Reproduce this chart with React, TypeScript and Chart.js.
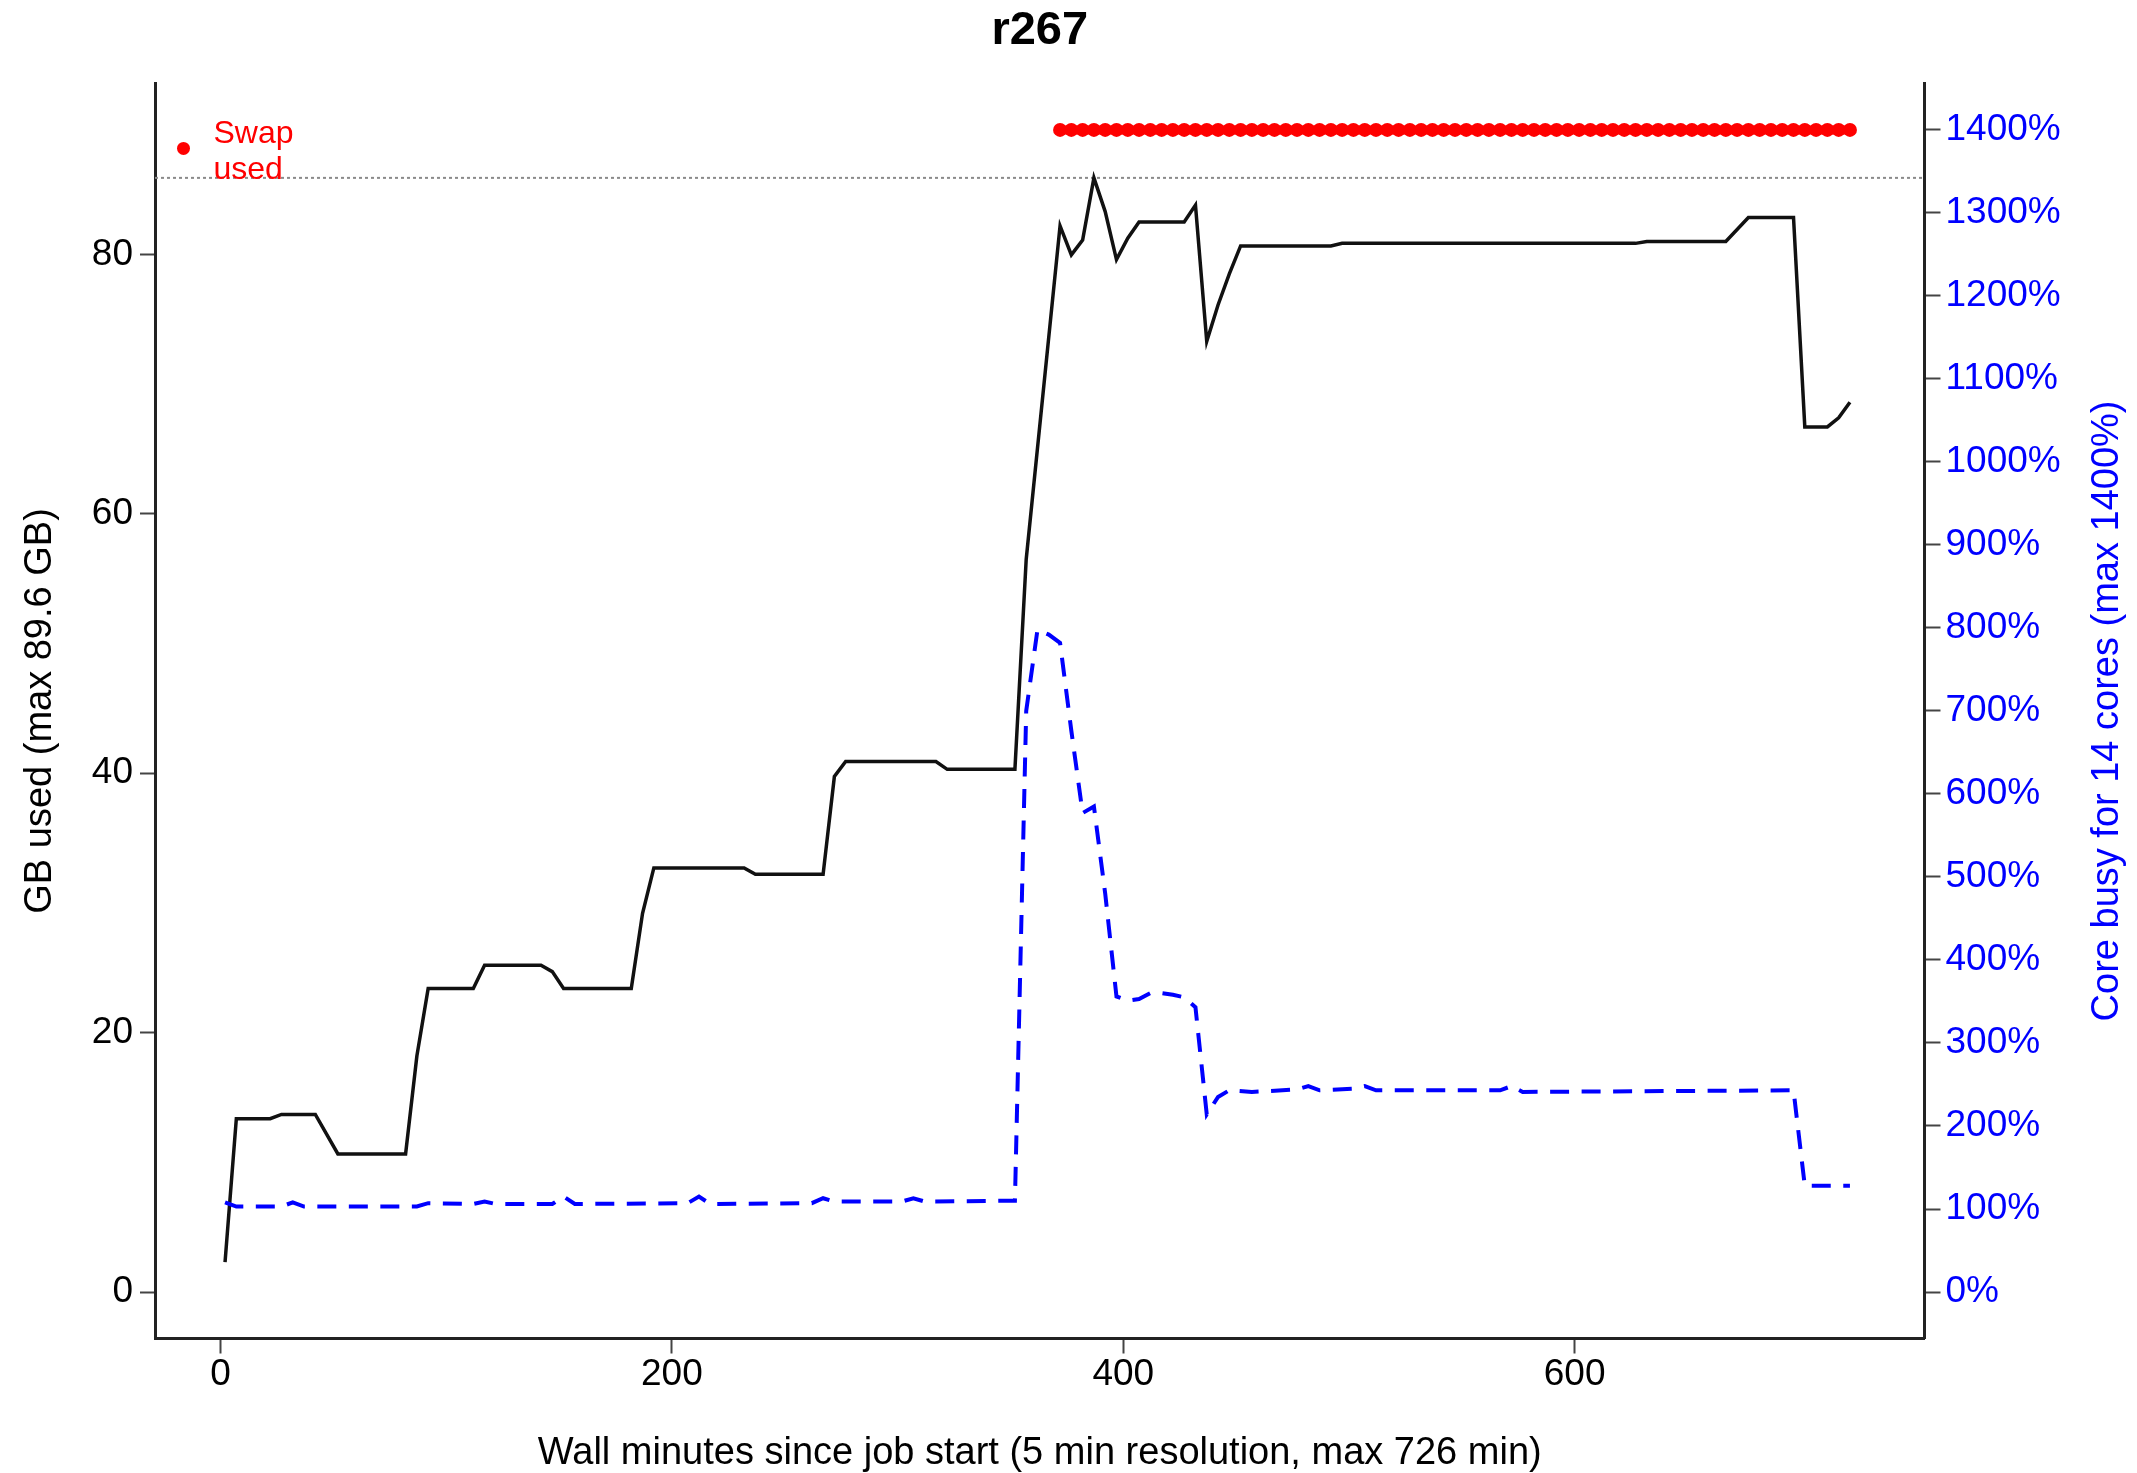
import React, { useEffect, useRef } from "react";
import { Chart, registerables } from "chart.js";

Chart.register(...registerables);

// ---- text ----
const TITLE = "r267";
const X_TITLE = "Wall minutes since job start (5 min resolution, max 726 min)";
const Y_TITLE = "GB used (max 89.6 GB)";
const Y2_TITLE = "Core busy for 14 cores (max 1400%)";
const LEGEND_LINES = ["Swap", "used"];

// ---- ticks ----
const X_TICKS = [0, 200, 400, 600];
const Y_TICKS = [0, 20, 40, 60, 80];
const Y2_TICKS = [0, 100, 200, 300, 400, 500, 600, 700, 800, 900, 1000, 1100, 1200, 1300, 1400];

// ---- ranges (R style, padded by 4%) ----
const X_LIMITS = [0, 726];
const MEM_LIMITS = [0, 89.6];
const CPU_LIMITS = [0, 1400];

// ---- memory series (GB) ----
const memMinutes = [
  2, 7, 22, 27, 42, 52, 82, 87, 92, 112, 117, 142, 147, 152, 182, 187, 192, 232, 237, 267,
  272, 277, 317, 322, 352, 357, 372, 377, 382, 387, 392, 397, 402, 407, 427, 432, 437, 442,
  447, 452, 492, 497, 627, 632, 667, 677, 697, 702, 712, 717, 722,
];
const memGB = [
  2.3, 13.36, 13.36, 13.69, 13.69, 10.65, 10.65, 18.2, 23.4, 23.4, 25.2, 25.2, 24.7, 23.4, 23.4, 29.2, 32.7, 32.7, 32.2, 32.2,
  39.75, 40.9, 40.9, 40.3, 40.3, 56.5, 82.2, 79.96, 81.1, 85.9, 83.3, 79.6, 81.25, 82.5, 82.5, 83.8, 73.3, 76.1,
  78.5, 80.65, 80.65, 80.85, 80.85, 81.0, 81.0, 82.85, 82.85, 66.7, 66.7, 67.4, 68.6,
];

// ---- CPU series (% busy) ----
const cpuMinutes = [
  2, 7, 27, 32, 37, 87, 92, 112, 117, 122, 147, 152, 157, 207, 212, 217, 262, 267, 272, 302,
  307, 312, 352, 357, 362, 367, 372, 377, 382, 387, 392, 397, 402, 407, 412, 417, 422, 427,
  432, 437, 442, 447, 457, 477, 482, 487, 502, 507, 512, 567, 572, 577, 697, 702, 722,
];
const cpuPct = [
  108, 103, 103, 108, 103, 103, 107, 106, 109, 106, 106, 115, 106, 107, 115, 106, 107, 113, 109, 109,
  113, 109, 110, 700, 798, 792, 782, 676, 577, 585, 480, 356, 351, 353, 360, 360, 358, 355,
  343, 214, 235, 243, 241, 244, 248, 243, 245, 248, 243, 243, 248, 241, 243, 128, 128,
];

// ---- swap used samples (minutes) ----
const swapMinutes = [
  372, 377, 382, 387, 392, 397, 402, 407, 412, 417, 422, 427, 432, 437, 442, 447, 452, 457,
  462, 467, 472, 477, 482, 487, 492, 497, 502, 507, 512, 517, 522, 527, 532, 537, 542, 547,
  552, 557, 562, 567, 572, 577, 582, 587, 592, 597, 602, 607, 612, 617, 622, 627, 632, 637,
  642, 647, 652, 657, 662, 667, 672, 677, 682, 687, 692, 697, 702, 707, 712, 717, 722,
];
const SWAP_LEVEL_GB = 89.6;

const FONT = '"Liberation Sans", Arial, Helvetica, sans-serif';
const BLUE = "#0000ff";
const RED = "#ff0000";

function padded(lim: number[]) {
  const d = (lim[1] - lim[0]) * 0.04;
  return [lim[0] - d, lim[1] + d];
}

const overlayPlugin = {
  id: "overlay",
  afterDraw(chart: any) {
    const { ctx, chartArea } = chart;
    ctx.save();
    // right axis title (reads bottom-to-top)
    ctx.translate(chartArea.right + 183, (chartArea.top + chartArea.bottom) / 2);
    ctx.rotate(-Math.PI / 2);
    ctx.font = `38px ${FONT}`;
    ctx.fillStyle = BLUE;
    ctx.textAlign = "center";
    ctx.textBaseline = "middle";
    ctx.fillText(Y2_TITLE, 0, 0);
    ctx.restore();

    // legend
    ctx.save();
    const lx = chartArea.left + 28.5;
    const ly = chartArea.top + 65;
    ctx.fillStyle = RED;
    ctx.beginPath();
    ctx.arc(lx, ly, 6.5, 0, Math.PI * 2);
    ctx.fill();
    ctx.font = `32px ${FONT}`;
    ctx.textAlign = "left";
    ctx.textBaseline = "alphabetic";
    LEGEND_LINES.forEach((t, i) => {
      ctx.fillText(t, chartArea.left + 58.5, chartArea.top + 59.5 + i * 36.3);
    });
    ctx.restore();
  },
};

export default function App() {
  const ref = useRef<HTMLCanvasElement | null>(null);

  useEffect(() => {
    if (!ref.current) return;
    const xr = padded(X_LIMITS);
    const yr = padded(MEM_LIMITS);
    const y2r = padded(CPU_LIMITS);
    const peak = Math.max(...memGB);

    const chart = new Chart(ref.current, {
      type: "line",
      data: {
        datasets: [
          {
            label: "swap",
            data: swapMinutes.map((m) => ({ x: m, y: SWAP_LEVEL_GB })),
            showLine: true,
            borderWidth: 9,
            borderCapStyle: "butt",
            pointRadius: 7,
            pointBorderWidth: 0,
            pointBackgroundColor: RED,
            backgroundColor: RED,
            borderColor: RED,
            yAxisID: "y",
          },
          {
            label: "cpu",
            data: cpuMinutes.map((m, i) => ({ x: m, y: cpuPct[i] })),
            borderColor: BLUE,
            borderWidth: 4,
            borderDash: [19, 12.5],
            pointRadius: 0,
            tension: 0,
            yAxisID: "y2",
          },
          {
            label: "mem",
            data: memMinutes.map((m, i) => ({ x: m, y: memGB[i] })),
            borderColor: "#111111",
            borderWidth: 3.5,
            pointRadius: 0,
            tension: 0,
            yAxisID: "y",
          },
          {
            label: "peak",
            data: [
              { x: xr[0], y: peak },
              { x: xr[1], y: peak },
            ],
            borderColor: "#8a8a8a",
            borderWidth: 2,
            borderDash: [3, 3],
            pointRadius: 0,
            yAxisID: "y",
          },
        ],
      },
      options: {
        animation: false,
        responsive: false,
        maintainAspectRatio: false,
        devicePixelRatio: 1,
        layout: { padding: 0 },
        plugins: {
          legend: { display: false },
          tooltip: { enabled: false },
          title: {
            display: true,
            text: TITLE,
            fullSize: false,
            color: "#000",
            font: { family: FONT, size: 47, weight: "bold", lineHeight: 1.2 },
            padding: { top: 3, bottom: 24 },
          },
        },
        scales: {
          x: {
            type: "linear",
            position: "bottom",
            min: xr[0],
            max: xr[1],
            afterBuildTicks: (s: any) => {
              s.ticks = X_TICKS.map((v) => ({ value: v }));
            },
            afterFit: (s: any) => {
              s.height = 134.5;
            },
            grid: {
              drawOnChartArea: false,
              drawTicks: true,
              tickLength: 15,
              tickColor: "#444",
              tickWidth: 2,
            },
            border: { display: true, color: "#222", width: 3 },
            ticks: {
              color: "#000",
              padding: 0,
              maxRotation: 0,
              autoSkip: false,
              font: { family: FONT, size: 37, lineHeight: 1.15 },
            },
            title: {
              display: true,
              text: X_TITLE,
              color: "#000",
              font: { family: FONT, size: 38, lineHeight: 1.0 },
              padding: { top: 0, bottom: 0 },
            },
          },
          y: {
            type: "linear",
            position: "left",
            min: yr[0],
            max: yr[1],
            afterBuildTicks: (s: any) => {
              s.ticks = Y_TICKS.map((v) => ({ value: v }));
            },
            afterFit: (s: any) => {
              s.width = 155;
            },
            grid: {
              drawOnChartArea: false,
              drawTicks: true,
              tickLength: 15,
              tickColor: "#444",
              tickWidth: 2,
            },
            border: { display: true, color: "#222", width: 3 },
            ticks: {
              color: "#000",
              padding: 7,
              autoSkip: false,
              font: { family: FONT, size: 37 },
            },
            title: {
              display: true,
              text: Y_TITLE,
              color: "#000",
              font: { family: FONT, size: 38, lineHeight: 1.2 },
              padding: { top: 18, bottom: 0 },
            },
          },
          y2: {
            type: "linear",
            position: "right",
            min: y2r[0],
            max: y2r[1],
            afterBuildTicks: (s: any) => {
              s.ticks = Y2_TICKS.map((v) => ({ value: v }));
            },
            afterFit: (s: any) => {
              s.width = 212.5;
            },
            grid: {
              drawOnChartArea: false,
              drawTicks: true,
              tickLength: 16,
              tickColor: "#444",
              tickWidth: 2,
            },
            border: { display: true, color: "#222", width: 3 },
            ticks: {
              color: BLUE,
              padding: 5,
              autoSkip: false,
              font: { family: FONT, size: 37 },
              callback: (v: any) => `${v}%`,
            },
          },
        },
      },
      plugins: [overlayPlugin],
    } as any);

    return () => chart.destroy();
  }, []);

  return (
    <canvas
      ref={ref}
      width={2137}
      height={1473}
      style={{ position: "absolute", left: 0, top: 0, width: 2137, height: 1473 }}
    />
  );
}
